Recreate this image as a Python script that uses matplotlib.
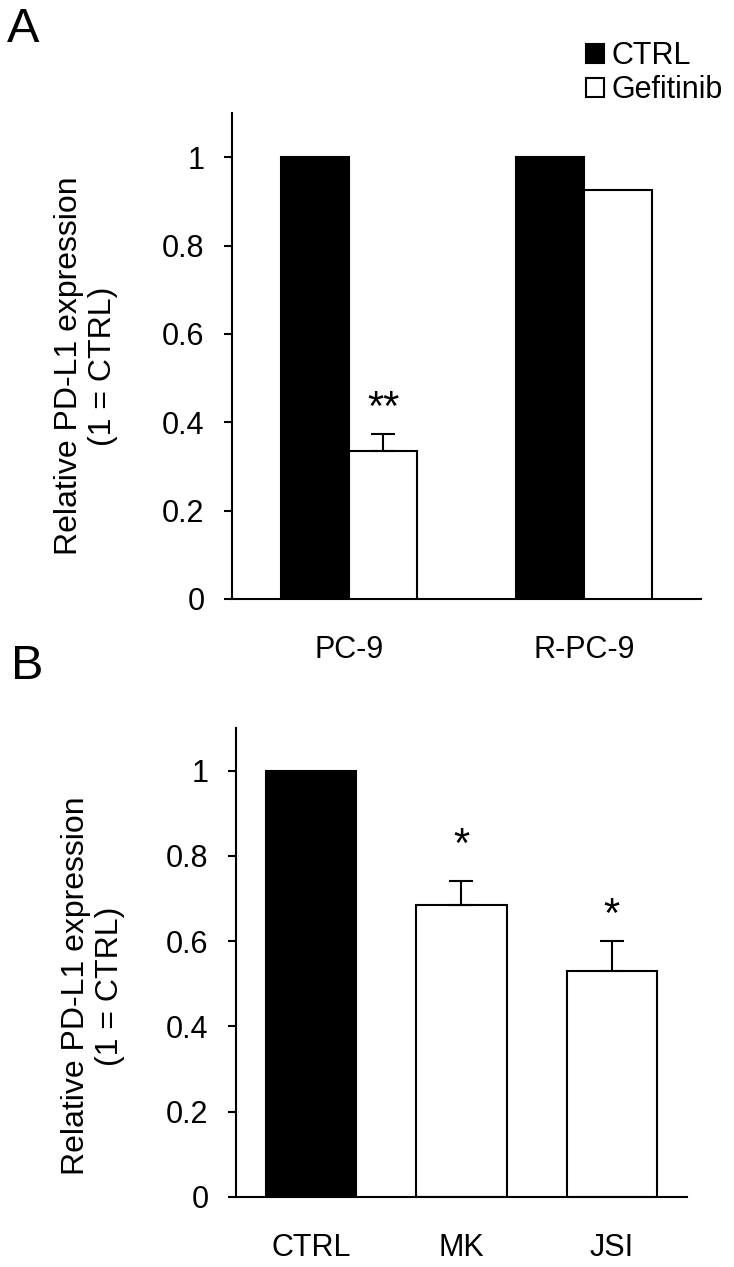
import matplotlib
matplotlib.use("Agg")
import matplotlib.pyplot as plt
from matplotlib.patches import Patch

plt.rcParams['font.family'] = ['Liberation Sans', 'DejaVu Sans']

# ---- data ----
a_groups = ["PC-9", "R-PC-9"]
a_ctrl = [1.0, 1.0]
a_gef = [0.336, 0.925]
a_gef_err = [0.038, 0.0]
a_sig = ["**", ""]
a_sig_y = [0.456, None]

b_groups = ["CTRL", "MK", "JSI"]
b_values = [1.0, 0.686, 0.529]
b_err = [0.0, 0.054, 0.071]
b_sig = ["", "*", "*"]
b_sig_y = [None, 0.850, 0.684]

yticks = [0, 0.2, 0.4, 0.6, 0.8, 1]
yticklabels = ["0", "0.2", "0.4", "0.6", "0.8", "1"]
ylabel = "Relative PD-L1 expression\n(1 = CTRL)"

W, H = 734, 1267
fig = plt.figure(figsize=(W / 100, H / 100), dpi=100)

FS = 22
LW = 1.5

def style_axes(ax):
    for s in ["top", "right"]:
        ax.spines[s].set_visible(False)
    for s in ["left", "bottom"]:
        ax.spines[s].set_linewidth(LW)
        ax.spines[s].set_color("black")
    ax.set_ylim(0, 1.1)
    ax.set_yticks(yticks)
    ax.set_yticklabels(yticklabels, fontsize=FS)
    ax.tick_params(axis="y", direction="out", length=5.8, width=LW, pad=14)
    ax.tick_params(axis="x", length=0, pad=26, labelsize=FS)

def box(l, t, r, b):
    return [l / W, 1 - b / H, (r - l) / W, (b - t) / H]

# ---- Panel A ----
axA = fig.add_axes(box(232, 113, 701, 599))
style_axes(axA)
bw = 0.29
xa = list(range(len(a_groups)))
axA.bar([x - bw / 2 for x in xa], a_ctrl, width=bw, color="black",
        edgecolor="black", linewidth=LW, label="CTRL", zorder=2)
axA.bar([x + bw / 2 for x in xa], a_gef, width=bw, color="white",
        edgecolor="black", linewidth=LW, label="Gefitinib", zorder=3)
for x, v, e in zip(xa, a_gef, a_gef_err):
    if e > 0:
        axA.errorbar(x + bw / 2, v, yerr=[[0], [e]], fmt="none", ecolor="black",
                     elinewidth=LW, capsize=8.5, capthick=LW, zorder=4)
for x, s, y in zip(xa, a_sig, a_sig_y):
    if s:
        axA.annotate(s, xy=(x + bw / 2, y), xytext=(0, -8), textcoords="offset points",
                     ha="center", va="center", fontsize=30)
axA.set_xlim(-0.5, 1.5)
axA.set_xticks(xa)
axA.set_xticklabels(a_groups)

# ---- Panel B ----
axB = fig.add_axes(box(236, 728, 687, 1197))
style_axes(axB)
xb = list(range(len(b_groups)))
colors = ["black", "white", "white"]
axB.bar(xb, b_values, width=0.6, color=colors, edgecolor="black",
        linewidth=LW, zorder=2)
for x, v, e in zip(xb, b_values, b_err):
    if e > 0:
        axB.errorbar(x, v, yerr=[[0], [e]], fmt="none", ecolor="black",
                     elinewidth=LW, capsize=8.5, capthick=LW, zorder=4)
for x, s, y in zip(xb, b_sig, b_sig_y):
    if s:
        axB.annotate(s, xy=(x, y), xytext=(0, -8), textcoords="offset points",
                     ha="center", va="center", fontsize=30)
axB.set_xlim(-0.5, 2.5)
axB.set_xticks(xb)
axB.set_xticklabels(b_groups)

# ---- y labels ----
fig.text(86 / W, 1 - 366 / H, ylabel, rotation=90, ha="center", va="center",
         multialignment="center", linespacing=1.2, fontsize=23)
fig.text(93 / W, 1 - 986 / H, ylabel, rotation=90, ha="center", va="center",
         multialignment="center", linespacing=1.2, fontsize=23)

# ---- panel letters ----
fig.text(7 / W, 1 - 7 / H, "A", ha="left", va="top", fontsize=35)
fig.text(11 / W, 1 - 644 / H, "B", ha="left", va="top", fontsize=35)

# ---- legend ----
handles = [Patch(facecolor="black", edgecolor="black", linewidth=LW),
           Patch(facecolor="white", edgecolor="black", linewidth=LW)]
fig.legend(handles, ["CTRL", "Gefitinib"], loc="upper left",
           bbox_to_anchor=(586 / W, 1 - 41 / H), bbox_transform=fig.transFigure,
           frameon=False, fontsize=FS, handlelength=0.58, handleheight=0.58,
           handletextpad=0.26, labelspacing=0.14, borderpad=0, borderaxespad=0)

fig.savefig("out.png", dpi=100)
